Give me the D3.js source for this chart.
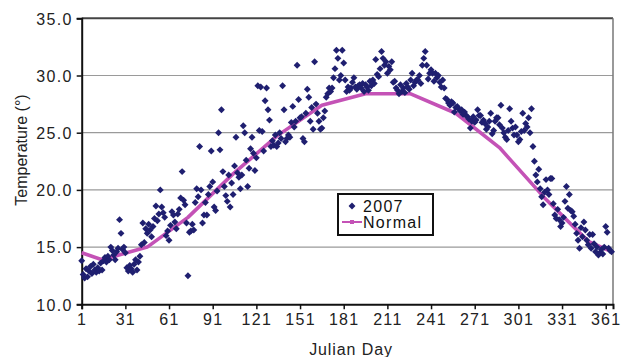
<!DOCTYPE html>
<html><head><meta charset="utf-8">
<script src="https://cdn.jsdelivr.net/npm/d3@7/dist/d3.min.js"></script>
<style>
html,body{margin:0;padding:0;background:#fff;}
svg{display:block;font-family:"Liberation Sans",Arial,sans-serif;}
</style></head>
<body>
<svg id="c" width="632" height="357"></svg>
<script>
// 2007 daily temperatures, day 1..365 (blocks of 10 days)
const temps2007 = [
13.8,12.6,12.3,13.1,12.4,12.9,13.3,12.7,13.5,13.0,
12.8,13.2,12.9,13.6,13.0,13.8,14.1,13.7,14.2,13.9,
15.0,14.7,14.3,13.9,14.6,14.9,17.4,16.2,14.8,15.0,
14.5,13.2,12.9,13.4,13.1,12.8,13.5,13.9,13.0,13.7,
14.2,15.2,17.1,15.4,16.6,16.2,17.0,16.5,15.9,16.8,
17.5,18.6,17.3,17.9,20.0,18.5,18.0,17.6,16.0,16.4,
15.6,16.9,18.1,17.8,17.2,16.6,17.9,18.3,19.3,21.6,
19.1,18.7,17.1,12.5,16.3,16.4,17.0,16.5,18.9,20.1,
19.4,23.8,20.0,17.1,17.8,18.9,17.8,19.6,20.3,23.4,
20.7,18.5,18.2,19.9,25.0,23.5,27.0,21.6,20.3,19.5,
19.0,21.3,18.5,20.6,19.6,22.1,24.6,21.5,21.1,20.1,
21.3,25.6,25.0,22.6,20.3,21.9,23.6,24.6,23.2,21.7,
22.8,29.1,25.2,29.0,25.1,23.4,27.8,28.9,27.0,26.1,
23.8,24.3,23.9,24.8,23.8,24.1,25.0,24.5,29.1,27.0,
24.2,24.5,24.8,24.6,25.9,27.3,25.5,26.0,30.9,27.9,
26.3,26.4,24.5,24.2,26.7,28.8,28.1,26.0,27.2,25.3,
31.2,27.5,26.7,26.0,25.3,25.4,26.3,26.9,28.1,28.4,
28.9,28.6,28.9,29.8,30.6,32.2,31.5,29.6,30.0,32.2,
31.1,29.6,28.6,29.0,28.7,28.9,29.4,29.8,29.0,28.8,
29.1,29.2,28.9,29.3,28.6,29.2,29.0,28.7,29.5,29.1,
29.6,29.3,31.4,30.1,29.9,30.6,32.1,31.5,30.9,31.2,
30.2,30.8,30.5,31.2,29.4,29.5,28.9,28.7,28.4,29.2,
28.6,28.9,28.5,29.3,29.0,28.8,29.6,30.2,29.1,29.4,
29.6,29.6,30.0,29.3,30.9,31.5,32.1,30.9,29.7,30.2,
30.5,30.2,29.5,30.2,29.8,30.0,29.4,29.0,29.6,28.9,
28.0,27.9,27.6,27.4,27.7,27.6,26.8,27.2,27.3,27.1,
26.9,27.0,26.6,26.8,26.5,26.4,26.2,25.4,26.0,26.4,
25.9,26.1,27.0,26.5,26.5,25.9,26.1,25.8,25.3,25.5,
26.0,26.7,24.9,25.2,26.0,26.3,26.3,25.7,27.4,25.4,
25.0,24.6,24.4,25.2,27.1,26.0,25.4,24.8,25.5,24.8,
24.2,24.4,25.1,26.7,25.2,25.8,25.5,26.3,25.0,27.1,
23.8,22.5,21.3,20.7,21.8,20.1,19.4,18.7,19.8,20.9,
20.0,19.6,21.0,21.0,18.8,17.8,17.5,18.3,17.4,16.8,
17.1,17.6,19.0,20.3,18.4,19.6,18.2,18.1,17.7,17.0,
16.2,15.6,14.9,16.7,15.9,17.2,16.5,15.6,15.2,16.1,
14.9,16.1,15.3,14.6,15.0,14.3,14.5,14.8,14.4,15.0,
16.8,16.3,14.9,14.7,14.6
];
const normalDays   = [1, 15, 46, 74, 105, 135, 166, 196, 227, 258, 288, 319, 349, 365];
const normalValues = [14.5, 13.9, 15.0, 17.6, 21.4, 24.7, 27.4, 28.4, 28.4, 26.7, 23.7, 19.3, 15.5, 14.6];
const xTicks = [1, 31, 61, 91, 121, 151, 181, 211, 241, 271, 301, 331, 361];
const yTicks = [10, 15, 20, 25, 30, 35];
const seriesNames = ["2007", "Normal"];

const W = 632, H = 357;
const L = 81.7, R = 613, T = 18.3, B = 304.3;
const x = d3.scaleLinear().domain([1, 366]).range([L, R]);
const y = d3.scaleLinear().domain([10, 35]).range([B, T]);
const svg = d3.select("#c");
const dotColor = "#1f1f70", lineColor = "#c452b6";

// gridlines
svg.append("g").selectAll("line").data(yTicks.filter(v => v > 10 && v < 35)).join("line")
  .attr("x1", L).attr("x2", R).attr("y1", d => y(d)).attr("y2", d => y(d))
  .attr("stroke", "#9a9a9a").attr("stroke-width", 1.2);
// frame top + right
svg.append("line").attr("x1", L).attr("x2", R).attr("y1", y(35)).attr("y2", y(35)).attr("stroke", "#444").attr("stroke-width", 2);
svg.append("line").attr("x1", R).attr("x2", R).attr("y1", T).attr("y2", B).attr("stroke", "#777").attr("stroke-width", 1.5);

// axes
const yAxis = svg.append("g").attr("transform", `translate(${L},0)`)
  .call(d3.axisLeft(y).tickValues(yTicks).tickFormat(d3.format(".1f")).tickSize(5).tickPadding(4));
const xAxis = svg.append("g").attr("transform", `translate(0,${B})`)
  .call(d3.axisBottom(x).tickValues(xTicks).tickFormat(d3.format("d")).tickSize(5).tickPadding(3));
[yAxis, xAxis].forEach(g => {
  g.select(".domain").attr("stroke", "#111").attr("stroke-width", 2);
  g.selectAll(".tick line").attr("stroke", "#111").attr("stroke-width", 1.5);
  g.selectAll("text").attr("fill", "#222").style("font-size", "16px").style("letter-spacing", "1.3px")
    .style("font-family", "'Liberation Sans',Arial,sans-serif");
});
yAxis.selectAll("text").attr("dy", "0.36em");
xAxis.selectAll("text").attr("dy", "0.78em");

// normal line
const normalData = normalDays.map((d, i) => [d, normalValues[i]]);
svg.append("path").datum(normalData)
  .attr("d", d3.line().x(d => x(d[0])).y(d => y(d[1])))
  .attr("fill", "none").attr("stroke", lineColor).attr("stroke-width", 3.6).attr("stroke-linejoin", "round");

// scatter
const sym = d3.symbol().type(d3.symbolSquare).size(24);
svg.append("g").selectAll("path").data(temps2007).join("path")
  .attr("d", sym)
  .attr("transform", (d, i) => `translate(${x(i + 1)},${y(d)}) rotate(45)`)
  .attr("fill", dotColor);

// axis titles
svg.append("text").attr("x", 351).attr("y", 355).attr("text-anchor", "middle")
  .style("font-size", "16px").style("letter-spacing", "0.9px").attr("fill", "#222").text("Julian Day");
svg.append("text").attr("transform", "translate(27,150) rotate(-90)").attr("text-anchor", "middle")
  .style("font-size", "16px").attr("fill", "#222").text("Temperature (°)");

// legend
const lg = svg.append("g");
lg.append("rect").attr("x", 338).attr("y", 194).attr("width", 95).attr("height", 41)
  .attr("fill", "#fff").attr("stroke", "#111").attr("stroke-width", 2);
lg.append("path").attr("d", sym).attr("transform", "translate(352,206) rotate(45)").attr("fill", dotColor);
lg.append("text").attr("x", 363).attr("y", 212).style("font-size", "16px").style("letter-spacing", "1.3px")
  .attr("fill", "#111").text(seriesNames[0]);
lg.append("line").attr("x1", 342).attr("x2", 362).attr("y1", 222).attr("y2", 222).attr("stroke", lineColor).attr("stroke-width", 2);
lg.append("rect").attr("x", 350).attr("y", 220).attr("width", 4).attr("height", 4).attr("fill", lineColor);
lg.append("text").attr("x", 363).attr("y", 228).style("font-size", "16px").style("letter-spacing", "1.3px")
  .attr("fill", "#111").text(seriesNames[1]);
</script>
</body></html>
